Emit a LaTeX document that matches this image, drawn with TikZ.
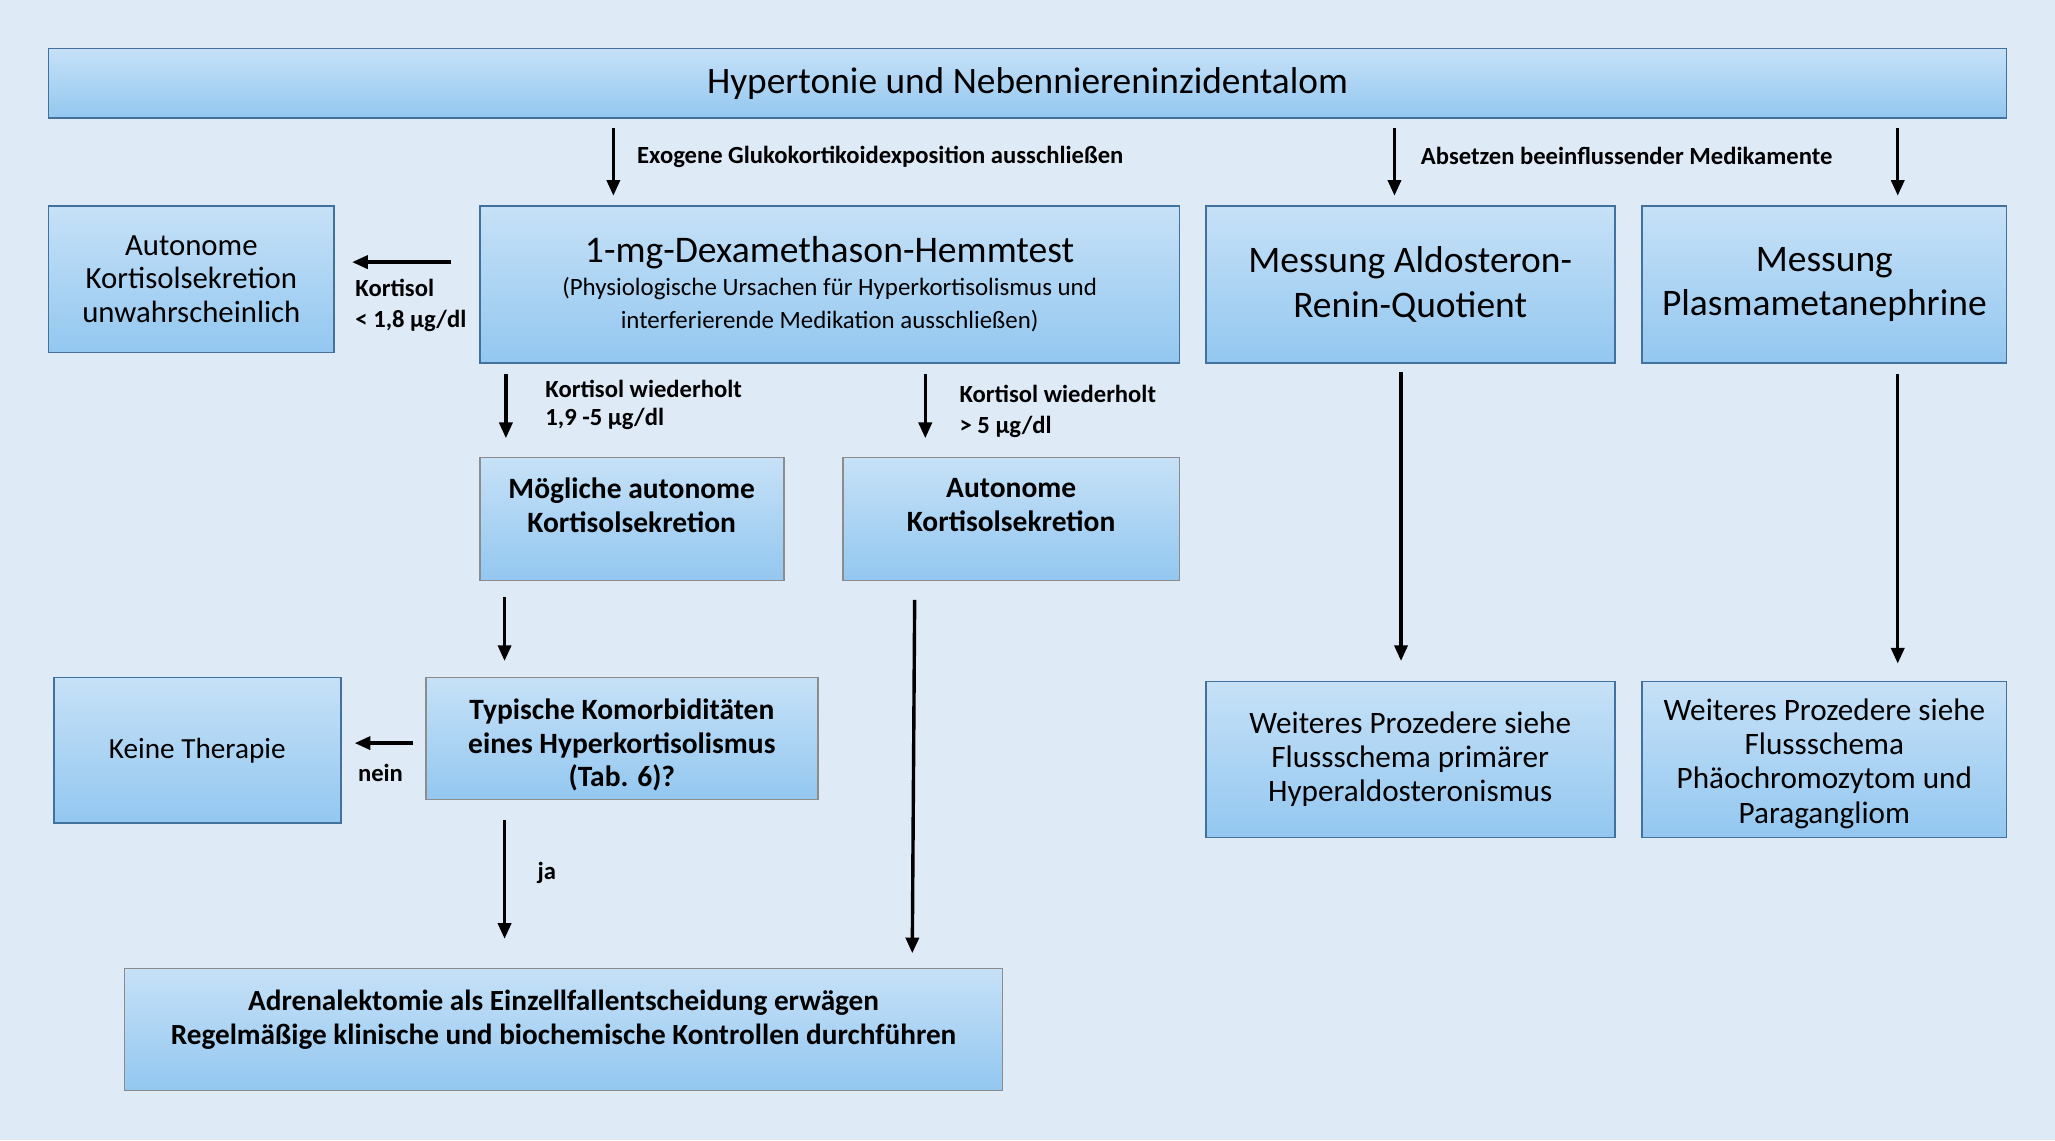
\documentclass[tikz,border=0pt]{standalone}
\usepackage{fontspec}
\setmainfont{Carlito}
\usetikzlibrary{arrows.meta}

\definecolor{bgblue}{HTML}{DEEBF7}
\definecolor{boxtop}{HTML}{C6E1F7}
\definecolor{boxbot}{HTML}{93C7F0}
\definecolor{edgeblue}{HTML}{41719C}
\definecolor{edgegrey}{HTML}{8C8C8C}

\tikzset{
  box/.style={draw=edgeblue, line width=1.3pt, top color=boxtop, bottom color=boxbot,
    align=center, inner sep=0pt},
  greybox/.style={box, draw=edgegrey},
  lift/.style={text depth=#1},
  drop/.style={text height=#1},
  lbl/.style={anchor=west, align=left, inner sep=0pt,
    font=\fontsize{18.8}{24}\selectfont\bfseries},
  arr/.style={line width=2.6pt, -{Triangle[length=12pt,width=10pt]},
    shorten <=7pt, shorten >=7pt},
}

\begin{document}
\begin{tikzpicture}[x=1pt, y=-1pt]

    \fill[bgblue] (0,0) rectangle (1568,870);

    % top row
    \node[box, minimum width=1494, minimum height=53, font=\fontsize{28.5}{30}\selectfont] (top) at (784, 63.5) {Hypertonie und Nebennierenin­zidentalom};

    \node[box, minimum width=218, minimum height=112, font=\fontsize{23.5}{25.5}\selectfont] (unw) at (146, 213) {Autonome\\Kortisolsekretion\\unwahrscheinlich};
    \node[box, minimum width=534, minimum height=120, font=\fontsize{19}{25}\selectfont] (dexa) at (633, 217) {{\fontsize{28.7}{30}\selectfont 1-mg-Dexamethason-Hemmtest}\\(Physiologische Ursachen für Hyperkortisolismus und\\interferierende Medikation ausschließen)};
    \node[box, minimum width=312, minimum height=120, font=\fontsize{28.6}{34}\selectfont] (aldo) at (1076, 217) {Messung Aldosteron-\\Renin-Quotient};
    \node[box, minimum width=278, minimum height=120, font=\fontsize{28.6}{34}\selectfont] (plasma) at (1392, 217) {Messung\\Plasmametanephrine};

    % middle
    \node[greybox, lift=21pt, minimum width=232, minimum height=94, font=\fontsize{22.5}{26}\selectfont\bfseries] (moeg) at (482, 396) {Mögliche autonome\\Kortisolsekretion};
    \node[greybox, lift=21pt, minimum width=257, minimum height=94, font=\fontsize{22.5}{26}\selectfont\bfseries] (auto) at (771.5, 396) {Autonome\\Kortisolsekretion};

    \node[box, minimum width=219, minimum height=111, font=\fontsize{22.3}{26}\selectfont] (keine) at (150.5, 572.5) {Keine Therapie};
    \node[greybox, drop=77pt, minimum width=299, minimum height=93, font=\fontsize{22.5}{25.5}\selectfont\bfseries] (komorb) at (474.5, 563.5) {Typische Komorbiditäten\\eines Hyperkortisolismus\\(Tab. 6)?};

    \node[box, minimum width=312, minimum height=119, font=\fontsize{23.8}{26}\selectfont] (weit1) at (1076, 579.5) {Weiteres Prozedere siehe\\Flussschema primärer\\Hyperaldosteronismus};
    \node[box, drop=101pt, minimum width=278, minimum height=119, font=\fontsize{23.8}{26}\selectfont] (weit2) at (1392, 579.5) {Weiteres Prozedere siehe\\Flussschema\\Phäochromozytom und\\Paragangliom};

    \node[greybox, lift=19pt, minimum width=670, minimum height=93, font=\fontsize{22.3}{26}\selectfont\bfseries] (adre) at (430, 785.5) {Adrenalektomie als Einzellfallentscheidung erwägen\\Regelmäßige klinische und biochemische Kontrollen durchführen};

    % arrows
    \draw[arr] (top.south -| 468,0) -- (dexa.north -| 468,0);
    \draw[arr] (top.south -| 1064,0) -- (aldo.north -| 1064,0);
    \draw[arr] (top.south -| 1448,0) -- (plasma.north -| 1448,0);
    \draw[arr, shorten <=21pt, shorten >=13pt] (dexa.west |- 0,200) -- (unw.east |- 0,200);
    \draw[arr, shorten <=8pt, shorten >=14pt] (dexa.south -| 386,0) -- (moeg.north -| 386,0);
    \draw[arr, shorten <=8pt, shorten >=14pt] (dexa.south -| 706,0) -- (auto.north -| 706,0);
    \draw[arr, shorten <=12pt, shorten >=12pt] (moeg.south -| 385,0) -- (komorb.north -| 385,0);
    \draw[arr, shorten <=14pt, shorten >=11pt] (auto.south -| 698,0) -- (adre.north -| 696,0);
    \draw[arr, shorten <=9pt, shorten >=10pt] (komorb.west |- 0,567) -- (keine.east |- 0,567);
    \draw[arr, shorten <=15pt, shorten >=22pt] (komorb.south -| 385,0) -- (adre.north -| 385,0);
    \draw[arr, shorten <=6pt, shorten >=15pt] (aldo.south -| 1069,0) -- (weit1.north -| 1069,0);
    \draw[arr, shorten <=8pt, shorten >=13pt] (plasma.south -| 1448,0) -- (weit2.north -| 1448,0);

    % arrow labels
    \node[lbl] (exo) at (486, 120) {Exogene Glukokortikoidexposition ausschließen};
    \node[lbl] (abs) at (1084, 119) {Absetzen beeinflussender Medikamente};
    \node[lbl] (klein) at (271, 233) {Kortisol\\< 1,8 µg/dl};
    \node[lbl, font=\fontsize{18.8}{22}\selectfont\bfseries] (mittel) at (416, 309) {Kortisol wiederholt\\1,9 -5 µg/dl};
    \node[lbl] (hoch) at (732, 314) {Kortisol wiederholt\\> 5 µg/dl};
    \node[lbl] (nein) at (273, 590) {nein};
    \node[lbl] (ja) at (410, 666) {ja};

\end{tikzpicture}
\end{document}
